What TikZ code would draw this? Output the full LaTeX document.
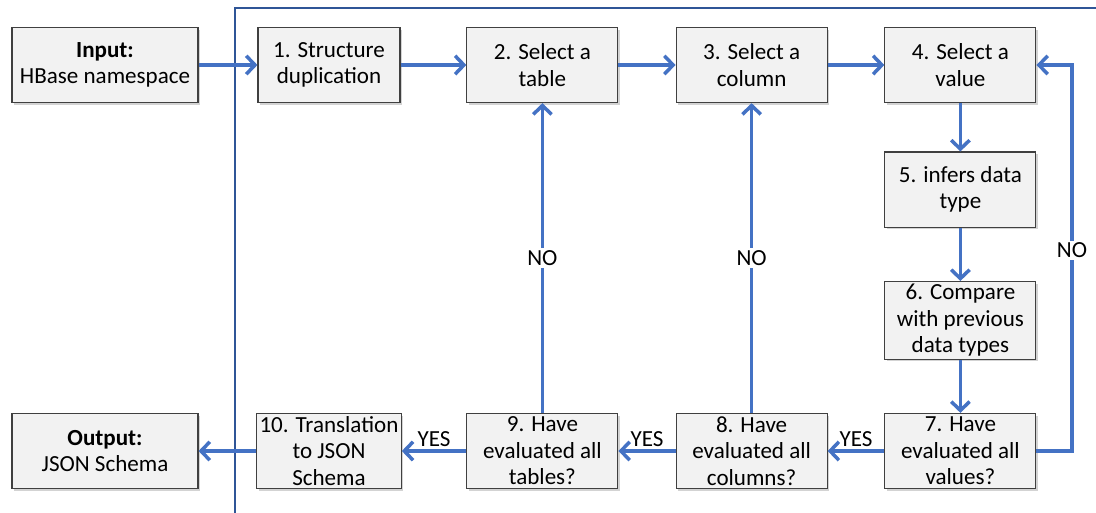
\documentclass[tikz,border=0pt]{standalone}
\usepackage{fontspec}
\setmainfont{Carlito}
\usetikzlibrary{arrows.meta,shadows}
\definecolor{flowblue}{HTML}{4472C4}
\definecolor{frameblue}{HTML}{2F5597}
\definecolor{boxgrey}{HTML}{F2F2F2}

\begin{document}
\begin{tikzpicture}[
    stage/.style={draw=black!75, line width=0.8pt, fill=boxgrey, align=center,
        minimum width=3.775cm, minimum height=1.88cm, inner sep=2pt,
        font=\fontsize{16.4}{18.8}\selectfont,
        drop shadow={shadow xshift=1.5pt, shadow yshift=-1.5pt, opacity=0.35}},
    flow/.style={flowblue, line width=2.5pt, -{Straight Barb[length=2.2mm,width=4.6mm]}},
    answer/.style={font=\fontsize{16.4}{18.8}\selectfont, text=black, inner sep=1.5pt},
]
    \useasboundingbox (0,0) rectangle (27.4,-12.825);

    % Frame round the process
    \draw[frameblue, line width=1pt] (5.875,-12.825) -- (5.875,-0.2) -- (27.4,-0.2);

    % In and out
    \node[stage, minimum width=4.65cm] (input) at (2.625,-1.625) {\textbf{Input:}\\HBase namespace};
    \node[stage, minimum width=4.65cm] (output) at (2.625,-11.275) {\textbf{Output:}\\JSON Schema};

    % Top row
    \node[stage, minimum width=3.55cm] (s1) at (8.225,-1.625) {1. Structure\\duplication};
    \node[stage] (s2) at (13.56,-1.625) {2. Select a\\table};
    \node[stage] (s3) at (18.79,-1.625) {3. Select a\\column};
    \node[stage] (s4) at (24.01,-1.625) {4. Select a\\value};

    % Right column
    \node[stage] (s5) at (24.01,-4.74) {5. infers data\\type};
    \node[stage] (s6) at (24.01,-8.01) {6. Compare\\with previous\\data types};

    % Bottom row
    \node[stage] (s7) at (24.01,-11.275) {7. Have\\evaluated all\\values?};
    \node[stage] (s8) at (18.79,-11.275) {8. Have\\evaluated all\\columns?};
    \node[stage] (s9) at (13.56,-11.275) {9. Have\\evaluated all\\tables?};
    \node[stage, minimum width=3.55cm] (s10) at (8.225,-11.275) {10. Translation\\to JSON\\Schema};

    % Main flow
    \draw[flow] (input) -- (s1);
    \draw[flow] (s1) -- (s2);
    \draw[flow] (s2) -- (s3);
    \draw[flow] (s3) -- (s4);
    \draw[flow] (s4) -- (s5);
    \draw[flow] (s5) -- (s6);
    \draw[flow] (s6) -- (s7);
    \foreach \from/\to in {s7/s8, s8/s9, s9/s10}
        \draw[flow] (\from) -- node[answer, above] {YES} (\to);
    \draw[flow] (s10) -- (output);

    % Loops back
    \draw[flow] (s9) -- node[answer, fill=white] {NO} (s2);
    \draw[flow] (s8) -- node[answer, fill=white] {NO} (s3);
    \coordinate (loopbot) at (26.8,-11.275);
    \coordinate (looptop) at (26.8,-1.625);
    \draw[flow] (s7.east) -- (loopbot) -- node[answer, fill=white, pos=0.52] {NO} (looptop) -- (s4.east);
\end{tikzpicture}
\end{document}
